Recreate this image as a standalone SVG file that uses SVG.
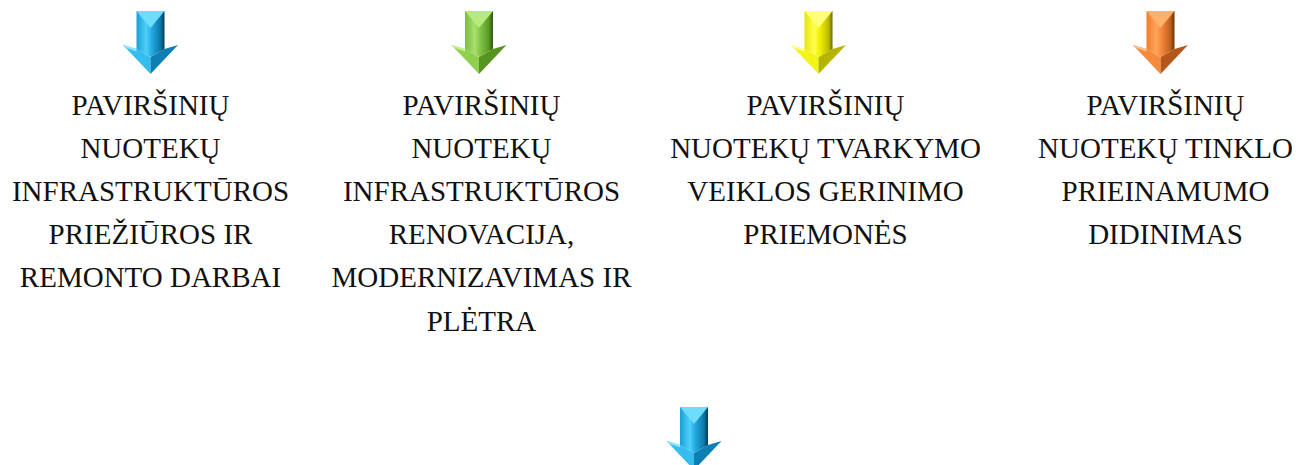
<svg xmlns="http://www.w3.org/2000/svg" width="1296" height="465" viewBox="0 0 1296 465">
<style>
.lbl{font-family:"Liberation Serif","DejaVu Serif",serif;font-size:29px;fill:#111;text-anchor:middle}
.blue .sh{fill:url(#gBlue)}.blue .cap{fill:#6fdcfb}.blue .hl{fill:#35bdf0}.blue .hr{fill:#0e7fb3}.blue .bv{fill:#8be6ff}
.green .sh{fill:url(#gGreen)}.green .cap{fill:#b6ea7e}.green .hl{fill:#8fd04f}.green .hr{fill:#57941f}.green .bv{fill:#c6f294}
.yellow .sh{fill:url(#gYellow)}.yellow .cap{fill:#ffff7a}.yellow .hl{fill:#f4f41a}.yellow .hr{fill:#b5b500}.yellow .bv{fill:#ffff9e}
.orange .sh{fill:url(#gOrange)}.orange .cap{fill:#ffb06a}.orange .hl{fill:#f6893a}.orange .hr{fill:#b5561a}.orange .bv{fill:#ffc08a}
</style>
<defs>
<linearGradient id="gBlue" x1="0" y1="0" x2="1" y2="0"><stop offset="0" stop-color="#1a9fd6"/><stop offset="0.35" stop-color="#4fd0fa"/><stop offset="0.55" stop-color="#22a8e0"/><stop offset="0.85" stop-color="#0d78a8"/><stop offset="1" stop-color="#053a55"/></linearGradient>
<linearGradient id="gGreen" x1="0" y1="0" x2="1" y2="0"><stop offset="0" stop-color="#79bd3d"/><stop offset="0.35" stop-color="#a9e06f"/><stop offset="0.55" stop-color="#80c445"/><stop offset="0.85" stop-color="#5a9a25"/><stop offset="1" stop-color="#2f5510"/></linearGradient>
<linearGradient id="gYellow" x1="0" y1="0" x2="1" y2="0"><stop offset="0" stop-color="#e6e600"/><stop offset="0.35" stop-color="#ffff55"/><stop offset="0.55" stop-color="#f0f000"/><stop offset="0.85" stop-color="#bdbd00"/><stop offset="1" stop-color="#6e6e00"/></linearGradient>
<linearGradient id="gOrange" x1="0" y1="0" x2="1" y2="0"><stop offset="0" stop-color="#ef7d2c"/><stop offset="0.35" stop-color="#ffa55c"/><stop offset="0.55" stop-color="#f3853a"/><stop offset="0.85" stop-color="#c0601e"/><stop offset="1" stop-color="#6a320b"/></linearGradient>
</defs>
<g id="connectors">
<g class="blue" transform="translate(150.5,11)"><polygon class="hl" points="-27.5,34 -14,38 0,46 0,63"/><polygon class="hr" points="0,46 14,38 27.5,34 0,63"/><polygon class="bv" points="-27.5,34 -14,38 -14,40.5 -24,37"/><polygon class="sh" points="-14,0 14,0 14,38 0,46 -14,38"/><polygon class="cap" points="-14,0 14,0 0,17"/></g>
<g class="green" transform="translate(479,11)"><polygon class="hl" points="-27.5,34 -14,38 0,46 0,63"/><polygon class="hr" points="0,46 14,38 27.5,34 0,63"/><polygon class="bv" points="-27.5,34 -14,38 -14,40.5 -24,37"/><polygon class="sh" points="-14,0 14,0 14,38 0,46 -14,38"/><polygon class="cap" points="-14,0 14,0 0,17"/></g>
<g class="yellow" transform="translate(818.5,11)"><polygon class="hl" points="-27.5,34 -14,38 0,46 0,63"/><polygon class="hr" points="0,46 14,38 27.5,34 0,63"/><polygon class="bv" points="-27.5,34 -14,38 -14,40.5 -24,37"/><polygon class="sh" points="-14,0 14,0 14,38 0,46 -14,38"/><polygon class="cap" points="-14,0 14,0 0,17"/></g>
<g class="orange" transform="translate(1160.5,11)"><polygon class="hl" points="-27.5,34 -14,38 0,46 0,63"/><polygon class="hr" points="0,46 14,38 27.5,34 0,63"/><polygon class="bv" points="-27.5,34 -14,38 -14,40.5 -24,37"/><polygon class="sh" points="-14,0 14,0 14,38 0,46 -14,38"/><polygon class="cap" points="-14,0 14,0 0,17"/></g>
<g class="blue" transform="translate(694,407)"><polygon class="hl" points="-27.5,34 -14,38 0,46 0,63"/><polygon class="hr" points="0,46 14,38 27.5,34 0,63"/><polygon class="bv" points="-27.5,34 -14,38 -14,40.5 -24,37"/><polygon class="sh" points="-14,0 14,0 14,38 0,46 -14,38"/><polygon class="cap" points="-14,0 14,0 0,17"/></g>
</g>
<g id="node1">
<text class="lbl" x="150.5" y="114.5">PAVIRŠINIŲ</text>
<text class="lbl" x="150.5" y="157.7">NUOTEKŲ</text>
<text class="lbl" x="150.5" y="200.9">INFRASTRUKTŪROS</text>
<text class="lbl" x="150.5" y="244.1">PRIEŽIŪROS IR</text>
<text class="lbl" x="150.5" y="287.3">REMONTO DARBAI</text>
</g>
<g id="node2">
<text class="lbl" x="481.5" y="114.5">PAVIRŠINIŲ</text>
<text class="lbl" x="481.5" y="157.7">NUOTEKŲ</text>
<text class="lbl" x="481.5" y="200.9">INFRASTRUKTŪROS</text>
<text class="lbl" x="481.5" y="244.1">RENOVACIJA,</text>
<text class="lbl" x="481.5" y="287.3">MODERNIZAVIMAS IR</text>
<text class="lbl" x="481.5" y="330.5">PLĖTRA</text>
</g>
<g id="node3">
<text class="lbl" x="825.5" y="114.5">PAVIRŠINIŲ</text>
<text class="lbl" x="825.5" y="157.7">NUOTEKŲ TVARKYMO</text>
<text class="lbl" x="825.5" y="200.9">VEIKLOS GERINIMO</text>
<text class="lbl" x="825.5" y="244.1">PRIEMONĖS</text>
</g>
<g id="node4">
<text class="lbl" x="1165.5" y="114.5">PAVIRŠINIŲ</text>
<text class="lbl" x="1165.5" y="157.7">NUOTEKŲ TINKLO</text>
<text class="lbl" x="1165.5" y="200.9">PRIEINAMUMO</text>
<text class="lbl" x="1165.5" y="244.1">DIDINIMAS</text>
</g>
</svg>
